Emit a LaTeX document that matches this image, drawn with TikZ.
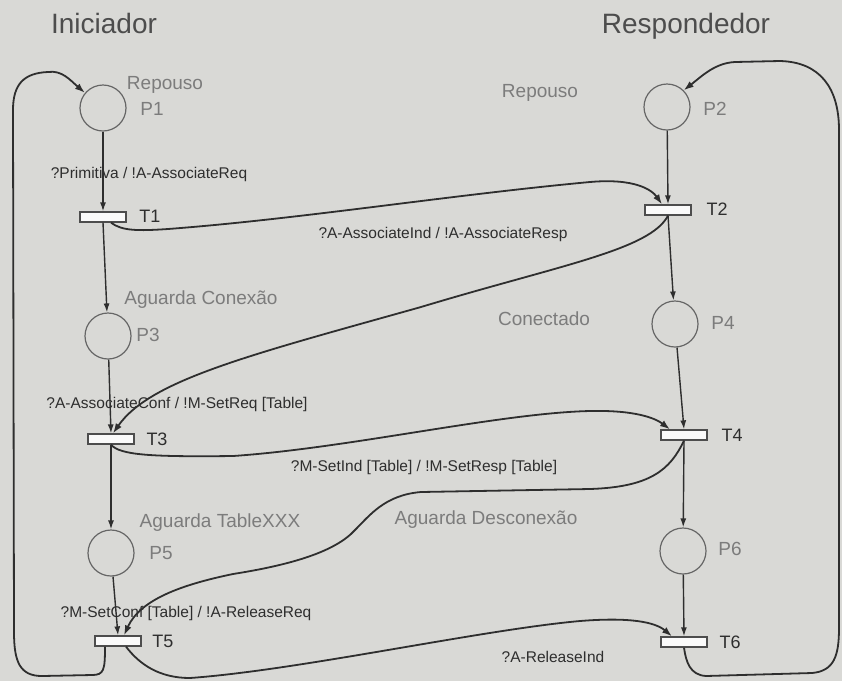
\documentclass[tikz,border=0pt]{standalone}
\usepackage{fontspec}
\setmainfont{Liberation Sans}
\usetikzlibrary{arrows.meta}
\definecolor{bg}{HTML}{D9D9D6}
\definecolor{ink}{HTML}{2E2E2E}
\definecolor{pale}{HTML}{7C7C7C}
\definecolor{ring}{HTML}{666666}
\tikzset{
  place/.style={circle,draw=ring,line width=1.2pt,minimum size=46pt,inner sep=0pt},
  trans/.style={rectangle,draw=ink!85,fill=white!88!bg,line width=1.3pt,minimum width=46pt,minimum height=10pt,inner sep=0pt},
  arc/.style={draw=ink,line width=1.4pt,-{Latex[length=9pt,width=6pt]}},
  conn/.style={draw=ink,line width=1.8pt,-{Latex[length=10pt,width=7pt]}},
  title/.style={anchor=base,text=ink!85,font=\fontsize{28}{32}\selectfont},
  pname/.style={anchor=base,text=pale,font=\fontsize{19}{22}\selectfont},
  tname/.style={anchor=base,text=ink,font=\fontsize{18}{21}\selectfont},
  elabel/.style={anchor=base,text=ink,font=\fontsize{15.5}{18}\selectfont}
}
\begin{document}
\begin{tikzpicture}[x=1pt,y=-1pt]
\fill[bg] (0,0) rectangle (842,681);
\useasboundingbox (0,0) rectangle (842,681);
% titles
\node[title] (tI) at (104,33) {Iniciador};
\node[title] (tR) at (686,33) {Respondedor};
% places and transitions, left
\node[place] (P1) at (103,108) {};
\node[trans] (T1) at (103,217) {};
\node[place] (P3) at (108,336) {};
\node[trans] (T3) at (111,439) {};
\node[place] (P5) at (111,553) {};
\node[trans] (T5) at (118,641) {};
% right
\node[place] (P2) at (667,107) {};
\node[trans] (T2) at (668,210) {};
\node[place] (P4) at (675,324) {};
\node[trans] (T4) at (684,435) {};
\node[place] (P6) at (683,551) {};
\node[trans] (T6) at (684,642) {};
% place labels
\node[pname] (lR1) at (165,89) {Repouso};
\node[pname] (lP1) at (152,115) {P1};
\node[pname] (lR2) at (540,97) {Repouso};
\node[pname] (lP2) at (715,115) {P2};
\node[pname] (lAC) at (201,304) {Aguarda Conexão};
\node[pname] (lP3) at (148,341) {P3};
\node[pname] (lCo) at (544,325) {Conectado};
\node[pname] (lP4) at (723,329) {P4};
\node[pname] (lAT) at (220,527) {Aguarda TableXXX};
\node[pname] (lP5) at (161,559) {P5};
\node[pname] (lAD) at (486,524) {Aguarda Desconexão};
\node[pname] (lP6) at (730,555) {P6};
% transition labels
\node[tname] (lT1) at (150,222) {T1};
\node[tname] (lT2) at (717,215) {T2};
\node[tname] (lT3) at (157,445) {T3};
\node[tname] (lT4) at (732,441) {T4};
\node[tname] (lT5) at (163,647) {T5};
\node[tname] (lT6) at (730,648) {T6};
% edge labels
\node[elabel] (e1) at (149,178) {?Primitiva / !A-AssociateReq};
\node[elabel] (e2) at (443,238) {?A-AssociateInd / !A-AssociateResp};
\node[elabel] (e3) at (177,408) {?A-AssociateConf / !M-SetReq [Table]};
\node[elabel] (e4) at (424,471) {?M-SetInd [Table] / !M-SetResp [Table]};
\node[elabel] (e5) at (186,617) {?M-SetConf [Table] / !A-ReleaseReq};
\node[elabel] (e6) at (553,662) {?A-ReleaseInd};
% vertical arcs
\draw[arc] (P1) -- (T1.north);
\draw[arc] (T1.south) -- (P3);
\draw[arc] (P3) -- (T3.north);
\draw[arc] (T3.south) -- (P5);
\draw[arc] (P5) -- (T5.north);
\draw[arc] (P2) -- (T2.north);
\draw[arc] (T2.south) -- (P4);
\draw[arc] (P4) -- (T4.north);
\draw[arc] (T4.south) -- (P6);
\draw[arc] (P6) -- (T6.north);
% loops
\draw[conn] ([xshift=-13pt]T5.south) .. controls (105,670) and (104,675) .. (92,675)
  -- (42,676) .. controls (20,676) and (14,662) .. (14,632)
  -- (13,110) .. controls (13,84) and (24,73) .. (48,72)
  .. controls (62,70) and (70,80) .. (P1.140);
\draw[conn] (T6.south) .. controls (686,662) and (690,675) .. (706,676)
  -- (812,673) .. controls (834,671) and (839,656) .. (839,628)
  -- (839,130) .. controls (839,88) and (820,62) .. (780,61)
  -- (735,62) .. controls (715,63) and (702,76) .. (P2.45);
% cross connectors
\draw[conn] ([xshift=8pt]T1.south) .. controls (122,231) and (138,231) .. (168,229)
  .. controls (300,219) and (450,195) .. (590,182)
  .. controls (635,178) and (652,190) .. ([xshift=-6pt]T2.north);
\draw[conn] (T2.south) .. controls (650,250) and (560,265) .. (421,307)
  .. controls (250,355) and (150,380) .. ([xshift=2pt]T3.north);
\draw[conn] (T3.south) .. controls (120,455) and (150,457) .. (233,456)
  .. controls (350,448) and (500,413) .. (590,411)
  .. controls (635,410) and (655,418) .. ([xshift=-14pt]T4.north);
\draw[conn] (T4.south) .. controls (670,470) and (650,487) .. (590,489)
  -- (421,492) .. controls (385,495) and (370,515) .. (355,530)
  .. controls (335,552) and (290,565) .. (233,574)
  .. controls (180,585) and (140,600) .. ([xshift=6pt]T5.north);
\draw[conn] ([xshift=8pt]T5.south) .. controls (140,665) and (160,678) .. (190,678)
  .. controls (300,670) and (480,630) .. (580,621)
  .. controls (630,617) and (655,622) .. ([xshift=-12pt]T6.north);
\end{tikzpicture}
\end{document}
